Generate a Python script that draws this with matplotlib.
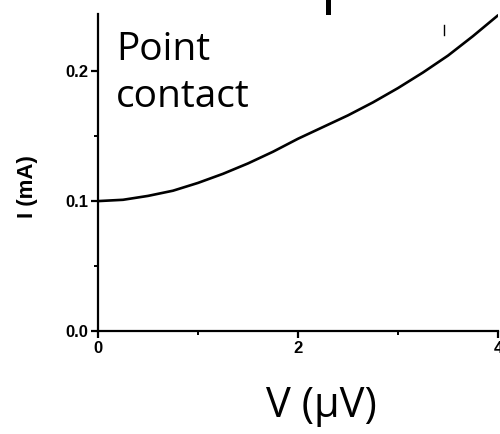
import matplotlib
matplotlib.use("Agg")
import matplotlib.pyplot as plt
from matplotlib.lines import Line2D
from matplotlib.ticker import MultipleLocator

# Current-voltage curve of the point contact
voltage_uV = [0.0, 0.25, 0.5, 0.75, 1.0, 1.25, 1.5, 1.75, 2.0,
              2.25, 2.5, 2.75, 3.0, 3.25, 3.5, 3.75, 4.0]
current_mA = [0.100, 0.101, 0.104, 0.108, 0.114, 0.121, 0.129, 0.138, 0.148,
              0.157, 0.166, 0.176, 0.187, 0.199, 0.212, 0.227, 0.243]

x_ticks = [0, 2, 4]
y_ticks = [0.0, 0.1, 0.2]
x_tick_labels = ["0", "2", "4"]
y_tick_labels = ["0.0", "0.1", "0.2"]

fig = plt.figure(figsize=(5.0, 4.34), dpi=100)
ax = fig.add_axes([0.196, 0.2373, 0.800, 0.7304])

ax.plot(voltage_uV, current_mA, color="black", lw=1.9, solid_capstyle="round",
        solid_joinstyle="round")

ax.set_xlim(0, 4)
ax.set_ylim(0, 0.244)

for side in ("top", "right"):
    ax.spines[side].set_visible(False)
for side in ("left", "bottom"):
    ax.spines[side].set_linewidth(1.6)

ax.set_xticks(x_ticks)
ax.set_xticklabels(x_tick_labels)
ax.set_yticks(y_ticks)
ax.set_yticklabels(y_tick_labels)
ax.xaxis.set_minor_locator(MultipleLocator(1))
ax.yaxis.set_minor_locator(MultipleLocator(0.05))
ax.tick_params(which="major", direction="out", length=5, width=1.6,
               labelsize=12, pad=2)
ax.tick_params(which="minor", direction="out", length=3, width=1.4)
for lab in ax.get_xticklabels() + ax.get_yticklabels():
    lab.set_fontweight("bold")
    lab.set_family("Liberation Sans")

ax.set_ylabel("I (mA)", fontsize=16, fontweight="bold",
              family="Liberation Sans")
ax.yaxis.set_label_coords(-0.150, 0.455)

fig.text(0.642, 0.015, "V (\u03bcV)", fontsize=30, family="Open Sans",
         ha="center", va="bottom")

ax.text(0.045, 0.945, "Point\ncontact", transform=ax.transAxes,
        fontsize=28, family="Open Sans", ha="left", va="top",
        linespacing=1.3)

# stray pen marks along the top edge
fig.add_artist(Line2D([0.656, 0.656], [1.0, 0.972], color="black", lw=3.6,
                      transform=fig.transFigure))
fig.add_artist(Line2D([0.888, 0.888], [0.942, 0.92], color="black", lw=1.0,
                      transform=fig.transFigure))

fig.savefig("out.png", dpi=100)
